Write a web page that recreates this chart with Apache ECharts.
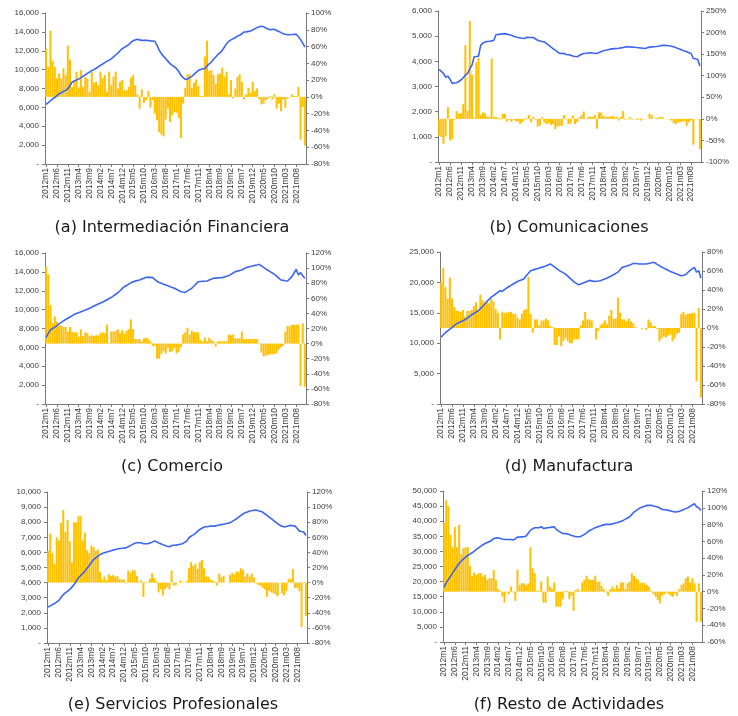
<!DOCTYPE html>
<html>
<head>
<meta charset="utf-8">
<script src="https://cdn.jsdelivr.net/npm/echarts@6/dist/echarts.min.js"></script>
<style>
html,body{margin:0;padding:0;background:#fff;}
#chart{width:738px;height:716px;}
</style>
</head>
<body>
<div id="chart"></div>
<script>
// Category labels: monthly 2012m1 .. 2021m12
const years = [2012,2013,2014,2015,2016,2017,2018,2019,2020,2021];
const months = [1,2,3,4,5,6,7,8,9,10,11,12];
const categories = [];
years.forEach(y => months.forEach(m => categories.push(y + 'm' + (y >= 2021 && m < 10 ? '0' + m : m))));

// (a) Intermediación Financiera
const a_level = [
 6320,6500,6700,6900,7050,7250,7450,7550,7700,7800,
 7980,8300,8690,8800,8900,9000,9150,9300,9450,9600,
 9750,9900,10000,10150,10300,10460,10600,10750,10900,11000,
 11160,11350,11550,11750,12000,12220,12350,12500,12650,12900,
 13050,13150,13210,13150,13100,13100,13100,13080,13050,13030,
 13000,12600,12050,11700,11400,11160,10900,10630,10450,10300,
 10100,9800,9400,9150,8970,9000,9150,9290,9500,9700,
 9926,10000,10100,10100,10400,10600,10810,11100,11340,11600,
 11800,12045,12400,12750,13000,13150,13280,13400,13550,13635,
 13800,13988,14000,14050,14094,14200,14341,14450,14550,14589,
 14550,14400,14300,14235,14250,14270,14150,14050,13918,13800,
 13750,13706,13700,13720,13730,13741,13500,13176,12800,12399];
const a_growth = [
 57,36,79,43,36,22,28,22,34,26,
 61,44,12,20,30,11,32,12,24,22,
 6,30,17,18,14,30,22,26,6,30,
 14,24,30,10,18,20,8,8,12,23,
 26,14,3,-14,9,-7,-4,7,-13,-4,
 -20,-28,-42,-45,-47,-27,-14,-30,-22,-18,
 -19,-25,-49,-8,11,27,27,11,17,21,
 13,1,1,48,67,31,32,26,16,27,
 28,35,24,30,3,20,-2,10,24,27,
 18,-3,3,11,5,18,7,10,-3,-9,
 -8,-4,-2,1,-3,3,-14,-8,-17,-3,
 -13,-2,0,3,1,1,12,-51,-12,-58];

// (b) Comunicaciones
const b_level = [
 3680,3600,3520,3360,3415,3284,3125,3140,3150,3200,
 3257,3350,3455,3520,3700,3850,4180,4190,4207,4642,
 4720,4774,4790,4800,4813,4840,5064,5070,5080,5090,
 5100,5080,5060,5038,5000,4970,4945,4930,4915,4906,
 4958,4950,4950,4945,4890,4840,4810,4790,4774,4708,
 4640,4576,4500,4444,4380,4312,4320,4312,4270,4260,
 4246,4210,4190,4180,4230,4280,4312,4320,4330,4339,
 4330,4320,4312,4350,4390,4418,4440,4460,4484,4495,
 4505,4510,4520,4535,4550,4576,4576,4570,4565,4560,
 4550,4540,4530,4520,4510,4540,4565,4576,4580,4590,
 4602,4620,4635,4642,4630,4620,4602,4580,4545,4510,
 4480,4440,4410,4378,4345,4312,4114,4100,4075,3811];
const b_growth = [
 -39,-42,-58,-41,27,-50,-47,-2,18,12,
 13,34,171,19,227,102,2,131,141,9,
 15,13,5,5,140,4,5,2,-2,12,
 12,-6,-2,-7,-2,-6,-6,-12,-8,-2,
 2,9,-8,5,-2,-18,-16,4,-8,-12,
 -10,-14,-12,-24,-18,-16,-16,9,-1,-12,
 -10,8,-12,-8,4,9,17,-1,4,5,
 4,9,-23,15,15,7,5,5,5,7,
 4,5,-4,5,18,-2,-1,4,-2,0,
 -2,-2,-4,-1,-1,0,12,9,0,2,
 2,5,4,0,-1,-1,-4,-10,-12,-8,
 -8,-6,-6,-16,-8,-4,-60,-1,0,-70];

// (c) Comercio
const c_level = [
 7030,7490,7840,8000,8150,8300,8480,8650,8800,8950,
 9080,9220,9360,9500,9600,9680,9770,9855,9950,10050,
 10140,10260,10380,10490,10600,10700,10810,10915,11050,11180,
 11300,11460,11630,11800,12000,12220,12430,12560,12700,12840,
 12960,13020,13080,13140,13240,13330,13420,13430,13420,13390,
 13200,13000,12880,12790,12700,12610,12520,12430,12350,12260,
 12150,12020,11900,11860,11830,11980,12120,12260,12500,12730,
 12960,12980,13000,13010,13030,13130,13230,13320,13340,13360,
 13380,13390,13460,13530,13600,13740,13880,14020,14080,14140,
 14200,14330,14450,14510,14570,14630,14690,14730,14800,14640,
 14470,14310,14170,14020,13880,13740,13540,13340,13140,13100,
 13060,13030,13260,13490,13880,14270,13670,13920,13600,13320];
const c_growth = [
 102,92,51,27,36,29,24,24,22,22,
 16,22,15,15,15,9,19,10,15,14,
 10,11,10,11,11,14,15,14,25,1,
 16,16,17,19,14,18,13,17,19,32,
 19,6,6,6,3,7,8,6,3,-3,
 -3,-20,-20,-14,-10,-13,-6,-11,-10,-6,
 -13,-11,-5,12,15,21,12,17,15,15,
 15,5,3,8,3,8,5,3,-4,3,
 3,3,3,3,12,11,12,7,7,7,
 16,6,6,6,6,6,6,6,-1,-12,
 -17,-16,-15,-14,-14,-14,-13,-8,-5,-3,
 16,23,23,25,25,25,25,-56,27,-57];

// (d) Manufactura
const d_level = [
 10990,11380,11760,12030,12300,12580,12880,13190,13360,13520,
 13680,13900,14120,14400,14670,14890,15110,15330,15690,16040,
 16450,16870,17220,17580,17840,18100,18350,18630,18520,18800,
 19070,19290,19510,19730,19950,20160,20310,20450,20600,21100,
 21500,21920,22030,22140,22250,22360,22470,22580,22690,22850,
 23020,22800,22520,22250,21980,21780,21570,21370,21040,20710,
 20380,20050,19840,19620,19750,19890,20040,20190,20330,20250,
 20160,20200,20230,20270,20420,20560,20710,20890,21080,21260,
 21480,21700,22090,22470,22580,22690,22800,22960,23130,23100,
 23060,23020,23020,23020,23020,23110,23200,23300,23190,22970,
 22750,22530,22350,22170,21990,21810,21660,21510,21370,21230,
 21100,21180,21260,21620,21980,22230,22470,21700,21920,20710];
const d_growth = [
 48,63,43,31,53,31,22,18,18,17,
 19,12,18,18,19,23,27,19,35,29,
 27,27,26,31,28,20,16,-12,17,16,
 16,17,17,15,15,11,9,15,19,20,
 54,15,-5,9,9,3,8,8,10,8,
 2,1,-18,-18,-9,-19,-14,-11,-14,-16,
 -16,-12,-12,-12,3,8,17,9,9,8,
 0,-12,-3,3,5,8,4,13,19,10,
 10,32,16,9,9,7,10,7,5,1,
 0,0,-1,0,-2,9,6,2,2,-1,
 -14,-11,-9,-10,-8,-7,-14,-11,-6,-5,
 15,17,14,15,15,16,16,-56,21,-73];

// (e) Servicios Profesionales
const e_level = [
 2390,2460,2540,2610,2720,2830,3020,3210,3320,3430,
 3540,3700,3870,4090,4310,4460,4610,4760,4950,5130,
 5330,5530,5640,5750,5860,5930,5980,6020,6060,6110,
 6150,6190,6220,6260,6270,6290,6300,6380,6450,6530,
 6600,6640,6640,6640,6570,6570,6570,6630,6680,6750,
 6700,6630,6570,6510,6460,6410,6370,6460,6470,6480,
 6510,6540,6570,6660,6750,6970,7070,7160,7260,7390,
 7520,7600,7680,7700,7720,7740,7740,7740,7780,7810,
 7840,7870,7900,7930,7960,8050,8140,8230,8340,8450,
 8560,8620,8680,8740,8760,8790,8810,8760,8720,8670,
 8560,8450,8340,8230,8120,8010,7900,7790,7740,7680,
 7720,7760,7790,7770,7740,7580,7410,7380,7350,7120];
const e_growth = [
 42,65,39,25,60,56,79,96,67,83,
 55,27,80,80,88,88,56,66,43,39,
 49,47,42,44,14,4,8,3,11,9,
 10,8,9,5,4,4,-1,16,13,17,
 16,9,1,3,-19,1,1,5,12,6,
 2,-13,-9,-17,-9,-6,-9,16,-4,-3,
 0,3,1,0,2,19,27,22,25,18,
 27,30,19,8,8,4,3,1,-4,12,
 7,9,0,0,10,13,11,15,14,19,
 17,8,12,8,12,7,-1,-3,-4,-7,
 -9,-19,-11,-13,-14,-16,-18,0,-14,-17,
 -11,5,5,18,-7,-7,-11,-59,1,-44];

// (f) Resto de Actividades
const f_level = [
 18140,19580,20700,21790,22900,24000,25000,26000,26800,27540,
 28100,28650,29100,29540,30100,30640,31200,31750,32200,32630,
 32950,33300,33630,34290,34400,34510,34300,34100,33960,33960,
 33960,33960,33740,34200,34730,34770,34810,34850,35070,36000,
 37060,37450,37830,37830,37830,38160,37610,37720,37830,37940,
 38050,38160,37280,36800,36300,35950,35900,35840,35560,35290,
 35070,34850,34850,34850,35230,35620,36170,36730,37100,37460,
 37830,38090,38350,38610,38780,38940,38940,38940,39120,39310,
 39490,39750,40010,40270,40670,41080,41480,42250,43030,43510,
 43990,44470,44730,44990,45240,45240,45240,45060,44870,44690,
 44300,43920,43810,43700,43580,43400,43210,43030,43140,43250,
 43550,43860,44160,44470,44910,45350,45800,44800,44470,43580];
const f_growth = [
 82,109,102,68,53,77,53,80,45,52,
 53,53,31,19,23,20,22,22,18,20,
 14,16,16,26,14,3,1,-6,-13,-1,
 -3,6,-1,-11,26,8,10,10,8,10,
 53,28,22,1,1,12,-13,-13,18,6,
 3,11,-18,-18,-18,-9,1,1,-9,-5,
 -23,2,3,1,11,14,19,15,14,14,
 19,12,12,7,3,-1,-5,3,6,3,
 8,4,11,11,3,10,12,22,19,16,
 14,10,11,10,8,6,1,-3,-6,-10,
 -14,-5,-3,-1,-3,-5,-6,-2,-5,3,
 8,10,16,18,11,16,10,-36,10,-36];

const captions = ['(a) Intermediación Financiera','(b) Comunicaciones','(c) Comercio','(d) Manufactura','(e) Servicios Profesionales','(f) Resto de Actividades'];

const panels = [
  {level:a_level, growth:a_growth, g:{left:45, top:13, width:261, height:151}, lmax:16000, lint:2000, rmin:-80, rmax:100, rint:20, cx:172, cy:228},
  {level:b_level, growth:b_growth, g:{left:438, top:11, width:263, height:151}, lmax:6000, lint:1000, rmin:-100, rmax:250, rint:50, cx:569, cy:228},
  {level:c_level, growth:c_growth, g:{left:45, top:253, width:261, height:151}, lmax:16000, lint:2000, rmin:-80, rmax:120, rint:20, cx:172, cy:467},
  {level:d_level, growth:d_growth, g:{left:440, top:252, width:262, height:152}, lmax:25000, lint:5000, rmin:-80, rmax:80, rint:20, cx:569, cy:467},
  {level:e_level, growth:e_growth, g:{left:47, top:492, width:260, height:151}, lmax:10000, lint:1000, rmin:-80, rmax:120, rint:20, cx:173, cy:705},
  {level:f_level, growth:f_growth, g:{left:443, top:491, width:259, height:151}, lmax:50000, lint:5000, rmin:-60, rmax:120, rint:20, cx:569, cy:705}
];

const axisColor = '#7a7a7a';
const labelColor = '#404040';
const labelFont = 'Liberation Sans';

const option = {animation:false, backgroundColor:'#fff', grid:[], xAxis:[], yAxis:[], series:[], graphic:[]};

panels.forEach((p, i) => {
  option.grid.push(Object.assign({containLabel:false}, p.g));
  option.xAxis.push({
    type:'category', gridIndex:i, data:categories, boundaryGap:true,
    axisLine:{onZero:false, lineStyle:{color:axisColor, width:1}},
    axisTick:{show:true, interval:4, alignWithLabel:true, length:3, lineStyle:{color:axisColor}},
    axisLabel:{interval:4, rotate:90, fontSize:8.5, color:labelColor, fontFamily:labelFont, margin:4},
    splitLine:{show:false}
  });
  option.yAxis.push({
    type:'value', gridIndex:i, position:'left', min:0, max:p.lmax, interval:p.lint,
    axisLine:{show:true, lineStyle:{color:axisColor, width:1}},
    axisTick:{show:true, length:3, lineStyle:{color:axisColor}},
    axisLabel:{fontSize:8, color:labelColor, fontFamily:labelFont, margin:6,
      formatter: v => v === 0 ? '-' : v.toLocaleString('en-US')},
    splitLine:{show:false}
  });
  option.yAxis.push({
    type:'value', gridIndex:i, position:'right', min:p.rmin, max:p.rmax, interval:p.rint,
    axisLine:{show:true, lineStyle:{color:axisColor, width:1}},
    axisTick:{show:true, length:3, lineStyle:{color:axisColor}},
    axisLabel:{fontSize:8, color:labelColor, fontFamily:labelFont, margin:5,
      formatter: v => v + '%'},
    splitLine:{show:false}
  });
  option.series.push({
    type:'bar', xAxisIndex:i, yAxisIndex:2*i+1, data:p.growth,
    barCategoryGap:'8%', itemStyle:{color:'#FFC000'}, z:2
  });
  option.series.push({
    type:'line', xAxisIndex:i, yAxisIndex:2*i, data:p.level,
    showSymbol:false, symbol:'none', lineStyle:{color:'#3a66f2', width:1.6}, z:3
  });
  option.graphic.push({
    type:'text', x:p.cx, y:p.cy,
    style:{text:captions[i], fill:'#1a1a1a', font:'16px "DejaVu Sans"', align:'center', verticalAlign:'middle'}
  });
});

const chart = echarts.init(document.getElementById('chart'), null, {renderer:'canvas'});
chart.setOption(option);
</script>
</body>
</html>
